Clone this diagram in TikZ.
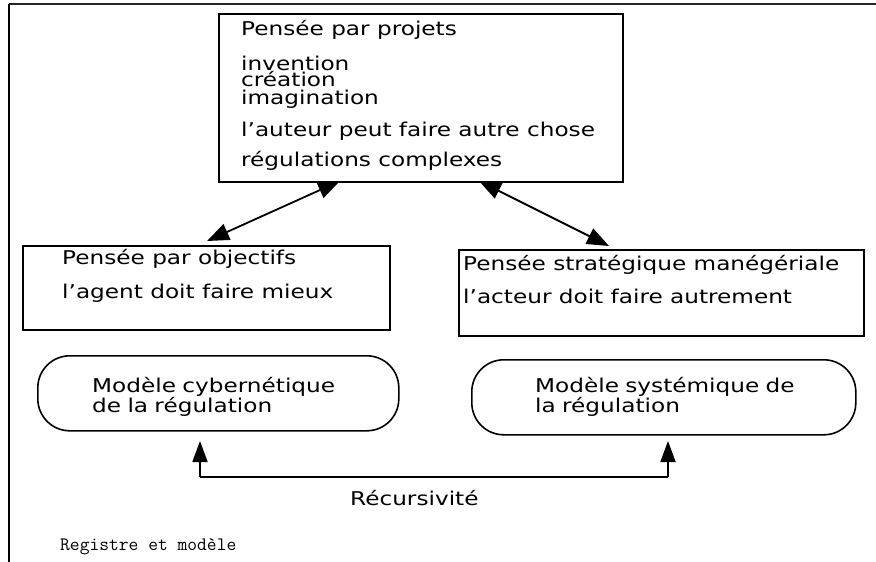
\documentclass[tikz,border=0pt]{standalone}
\usepackage{fontspec}
\usetikzlibrary{arrows.meta}
\newfontfamily\genevafont[FakeStretch=1.22]{DejaVu Sans}
\newcommand\tightlns{\lineskiplimit=-40pt\relax\lineskip=0pt\relax}
\tikzset{
  boxline/.style={draw=black, line width=1.6pt},
  txt/.style={anchor=base west, inner sep=0pt, font=\genevafont\fontsize{19}{22}\selectfont},
  mtxt/.style={anchor=base west, inner sep=0pt, text width=#1, align=left,
    font=\genevafont\fontsize{19}{16.5}\selectfont},
  monotxt/.style={anchor=base west, inner sep=0pt, font=\ttfamily\fontsize{19}{22}\selectfont},
  link/.style={line width=1.8pt, {Triangle[length=22pt,width=17pt]}-{Triangle[length=22pt,width=17pt]}},
  rec/.style={line width=1.8pt, -{Triangle[length=21pt,width=15pt]}}
}
\begin{document}
\begin{tikzpicture}[x=1pt,y=-1pt]
\useasboundingbox (0,0) rectangle (876,562);
% frame
\coordinate (fTL) at (9,4);
\coordinate (fTR) at (876,4);
\coordinate (fBL) at (9,562);
\draw[line width=2pt, black!85] (fTR) -- (fTL);
\draw[line width=2.6pt] (fTL) -- (fBL);

% boxes
\node[boxline, rectangle, inner sep=0pt, minimum width=404pt, minimum height=168pt, anchor=north west] (top) at (218,13) {};
\node[boxline, rectangle, inner sep=0pt, minimum width=367pt, minimum height=84pt, anchor=north west] (left) at (22,245) {};
\node[boxline, rectangle, inner sep=0pt, minimum width=405pt, minimum height=86pt, anchor=north west] (right) at (458,249) {};
\node[boxline, rectangle, rounded corners=32pt, inner sep=0pt, minimum width=361pt, minimum height=75pt, anchor=north west] (cyb) at (37,355) {};
\node[boxline, rectangle, rounded corners=32pt, inner sep=0pt, minimum width=384pt, minimum height=75pt, anchor=north west] (sys) at (471,359) {};

% texts top box
\node[txt] (t1) at (241,35) {Pensée par projets};
\node[mtxt=200pt, font=\genevafont\fontsize{19}{17}\selectfont] (t2) at (241,70) {\tightlns invention\\création\\imagination};
\node[txt] (t5) at (241,136) {l’auteur peut faire autre chose};
\node[txt] (t6) at (241,166) {régulations complexes};
% left box
\node[txt] (l1) at (62,264) {Pensée par objectifs};
\node[txt] (l2) at (62,298) {l’agent doit faire mieux};
% right box
\node[txt] (r1) at (463,270) {Pensée stratégique manégériale};
\node[txt] (r2) at (463,303) {l’acteur doit faire autrement};
% rounded boxes
\node[mtxt=280pt] (c1) at (92,392) {\tightlns Modèle cybernétique\\de la régulation};
\node[mtxt=280pt] (s1) at (535,392) {\tightlns Modèle systémique de\\la régulation};
% labels
\node[txt] (recl) at (350,505) {Récursivité};
\node[monotxt] (reg) at (60,550) {Registre et modèle};

% connectors
\coordinate (aL1) at (340,181);
\coordinate (aL2) at (207,241);
\coordinate (aR1) at (479,181);
\coordinate (aR2) at (609,246);
\draw[link] (aL2) -- (aL1);
\draw[link] (aR1) -- (aR2);

\coordinate (rb1) at (200,477);
\coordinate (rb2) at (668,477);
\coordinate (rt1) at (200,441);
\coordinate (rt2) at (668,441);
\draw[line width=1.8pt] (rb1) -- (rb2);
\draw[rec] (rb1) -- (rt1);
\draw[rec] (rb2) -- (rt2);
\end{tikzpicture}
\end{document}
